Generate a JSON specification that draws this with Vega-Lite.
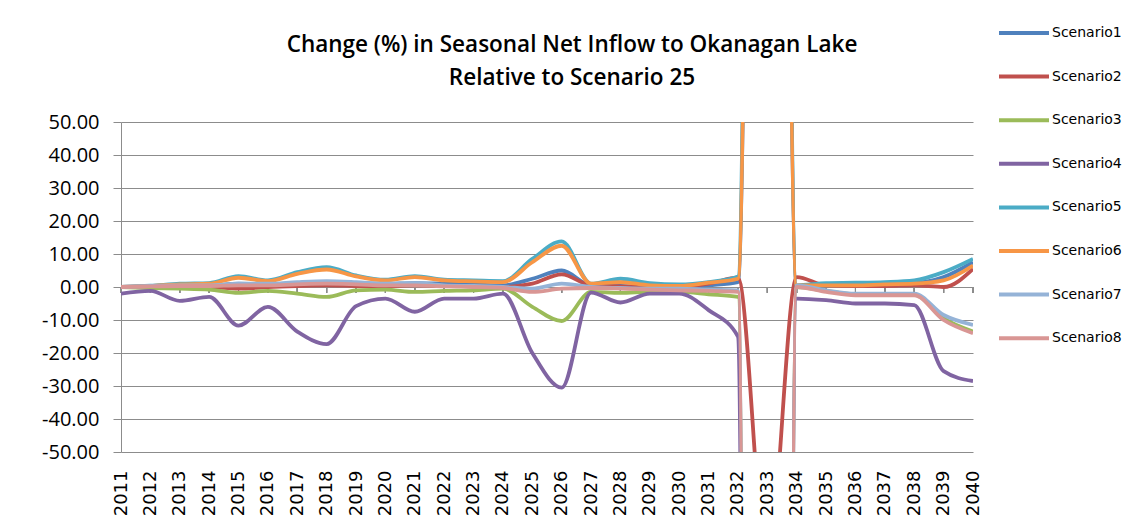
{
  "$schema": "https://vega.github.io/schema/vega-lite/v6.json",
  "autosize": {"type": "none"},
  "width": 852,
  "height": 330,
  "padding": {"left": 121, "top": 122, "right": 162, "bottom": 77},
  "background": "white",
  "config": {"view": {"stroke": null}},
  "title": {
    "text": ["Change (%) in Seasonal Net Inflow to Okanagan Lake", "Relative to Scenario 25"],
    "font": "Open Sans",
    "fontSize": 22.5,
    "fontWeight": 600,
    "color": "#000000",
    "anchor": "middle",
    "dx": 25,
    "offset": -83,
    "lineHeight": 33
  },
  "data": {"values": [
    {"scenario":"Scenario1","year":"2011","value":0},{"scenario":"Scenario1","year":"2012","value":0.2},{"scenario":"Scenario1","year":"2013","value":0.5},{"scenario":"Scenario1","year":"2014","value":0.5},{"scenario":"Scenario1","year":"2015","value":1.0},{"scenario":"Scenario1","year":"2016","value":0.8},{"scenario":"Scenario1","year":"2017","value":1.2},{"scenario":"Scenario1","year":"2018","value":1.5},{"scenario":"Scenario1","year":"2019","value":1.2},{"scenario":"Scenario1","year":"2020","value":1.0},{"scenario":"Scenario1","year":"2021","value":1.2},{"scenario":"Scenario1","year":"2022","value":1.0},{"scenario":"Scenario1","year":"2023","value":0.8},{"scenario":"Scenario1","year":"2024","value":0.5},{"scenario":"Scenario1","year":"2025","value":2.5},{"scenario":"Scenario1","year":"2026","value":5.0},{"scenario":"Scenario1","year":"2027","value":0.5},{"scenario":"Scenario1","year":"2028","value":0.3},{"scenario":"Scenario1","year":"2029","value":0},{"scenario":"Scenario1","year":"2030","value":-0.3},{"scenario":"Scenario1","year":"2031","value":0.5},{"scenario":"Scenario1","year":"2032","value":1.5},{"scenario":"Scenario1","year":"2033","value":700},{"scenario":"Scenario1","year":"2034","value":0.3},{"scenario":"Scenario1","year":"2035","value":0.5},{"scenario":"Scenario1","year":"2036","value":0.8},{"scenario":"Scenario1","year":"2037","value":1.0},{"scenario":"Scenario1","year":"2038","value":1.2},{"scenario":"Scenario1","year":"2039","value":3.0},{"scenario":"Scenario1","year":"2040","value":7.5},
    {"scenario":"Scenario2","year":"2011","value":0},{"scenario":"Scenario2","year":"2012","value":0},{"scenario":"Scenario2","year":"2013","value":0},{"scenario":"Scenario2","year":"2014","value":0},{"scenario":"Scenario2","year":"2015","value":-0.5},{"scenario":"Scenario2","year":"2016","value":0},{"scenario":"Scenario2","year":"2017","value":0.3},{"scenario":"Scenario2","year":"2018","value":0.5},{"scenario":"Scenario2","year":"2019","value":0.3},{"scenario":"Scenario2","year":"2020","value":0.2},{"scenario":"Scenario2","year":"2021","value":0.5},{"scenario":"Scenario2","year":"2022","value":0.3},{"scenario":"Scenario2","year":"2023","value":0.2},{"scenario":"Scenario2","year":"2024","value":0},{"scenario":"Scenario2","year":"2025","value":1.0},{"scenario":"Scenario2","year":"2026","value":3.8},{"scenario":"Scenario2","year":"2027","value":0.5},{"scenario":"Scenario2","year":"2028","value":0.2},{"scenario":"Scenario2","year":"2029","value":0},{"scenario":"Scenario2","year":"2030","value":0},{"scenario":"Scenario2","year":"2031","value":1.0},{"scenario":"Scenario2","year":"2032","value":2.8},{"scenario":"Scenario2","year":"2033","value":-85},{"scenario":"Scenario2","year":"2034","value":3.0},{"scenario":"Scenario2","year":"2035","value":0.5},{"scenario":"Scenario2","year":"2036","value":0.3},{"scenario":"Scenario2","year":"2037","value":0.3},{"scenario":"Scenario2","year":"2038","value":0.5},{"scenario":"Scenario2","year":"2039","value":0},{"scenario":"Scenario2","year":"2040","value":5.5},
    {"scenario":"Scenario3","year":"2011","value":0},{"scenario":"Scenario3","year":"2012","value":-0.3},{"scenario":"Scenario3","year":"2013","value":-0.5},{"scenario":"Scenario3","year":"2014","value":-0.8},{"scenario":"Scenario3","year":"2015","value":-1.8},{"scenario":"Scenario3","year":"2016","value":-1.2},{"scenario":"Scenario3","year":"2017","value":-2.0},{"scenario":"Scenario3","year":"2018","value":-3.0},{"scenario":"Scenario3","year":"2019","value":-1.0},{"scenario":"Scenario3","year":"2020","value":-0.8},{"scenario":"Scenario3","year":"2021","value":-1.5},{"scenario":"Scenario3","year":"2022","value":-1.2},{"scenario":"Scenario3","year":"2023","value":-1.0},{"scenario":"Scenario3","year":"2024","value":-0.5},{"scenario":"Scenario3","year":"2025","value":-6.0},{"scenario":"Scenario3","year":"2026","value":-10.3},{"scenario":"Scenario3","year":"2027","value":-1.5},{"scenario":"Scenario3","year":"2028","value":-1.8},{"scenario":"Scenario3","year":"2029","value":-1.5},{"scenario":"Scenario3","year":"2030","value":-1.5},{"scenario":"Scenario3","year":"2031","value":-2.2},{"scenario":"Scenario3","year":"2032","value":-3.0},{"scenario":"Scenario3","year":"2033","value":-2000},{"scenario":"Scenario3","year":"2034","value":0},{"scenario":"Scenario3","year":"2035","value":-1.2},{"scenario":"Scenario3","year":"2036","value":-2.2},{"scenario":"Scenario3","year":"2037","value":-2.3},{"scenario":"Scenario3","year":"2038","value":-2.3},{"scenario":"Scenario3","year":"2039","value":-9.5},{"scenario":"Scenario3","year":"2040","value":-13.5},
    {"scenario":"Scenario4","year":"2011","value":-2.0},{"scenario":"Scenario4","year":"2012","value":-1.2},{"scenario":"Scenario4","year":"2013","value":-4.2},{"scenario":"Scenario4","year":"2014","value":-3.0},{"scenario":"Scenario4","year":"2015","value":-11.7},{"scenario":"Scenario4","year":"2016","value":-6.0},{"scenario":"Scenario4","year":"2017","value":-13.5},{"scenario":"Scenario4","year":"2018","value":-17.3},{"scenario":"Scenario4","year":"2019","value":-5.8},{"scenario":"Scenario4","year":"2020","value":-3.5},{"scenario":"Scenario4","year":"2021","value":-7.5},{"scenario":"Scenario4","year":"2022","value":-3.5},{"scenario":"Scenario4","year":"2023","value":-3.5},{"scenario":"Scenario4","year":"2024","value":-2.0},{"scenario":"Scenario4","year":"2025","value":-20.0},{"scenario":"Scenario4","year":"2026","value":-30.5},{"scenario":"Scenario4","year":"2027","value":-1.7},{"scenario":"Scenario4","year":"2028","value":-4.7},{"scenario":"Scenario4","year":"2029","value":-2.0},{"scenario":"Scenario4","year":"2030","value":-2.0},{"scenario":"Scenario4","year":"2031","value":-7.0},{"scenario":"Scenario4","year":"2032","value":-15.0},{"scenario":"Scenario4","year":"2033","value":-2000},{"scenario":"Scenario4","year":"2034","value":-3.5},{"scenario":"Scenario4","year":"2035","value":-4.0},{"scenario":"Scenario4","year":"2036","value":-5.0},{"scenario":"Scenario4","year":"2037","value":-5.0},{"scenario":"Scenario4","year":"2038","value":-5.5},{"scenario":"Scenario4","year":"2039","value":-25.5},{"scenario":"Scenario4","year":"2040","value":-28.5},
    {"scenario":"Scenario5","year":"2011","value":0},{"scenario":"Scenario5","year":"2012","value":0.4},{"scenario":"Scenario5","year":"2013","value":1.0},{"scenario":"Scenario5","year":"2014","value":1.2},{"scenario":"Scenario5","year":"2015","value":3.3},{"scenario":"Scenario5","year":"2016","value":2.0},{"scenario":"Scenario5","year":"2017","value":4.5},{"scenario":"Scenario5","year":"2018","value":6.0},{"scenario":"Scenario5","year":"2019","value":3.5},{"scenario":"Scenario5","year":"2020","value":2.2},{"scenario":"Scenario5","year":"2021","value":3.3},{"scenario":"Scenario5","year":"2022","value":2.2},{"scenario":"Scenario5","year":"2023","value":2.0},{"scenario":"Scenario5","year":"2024","value":1.8},{"scenario":"Scenario5","year":"2025","value":8.5},{"scenario":"Scenario5","year":"2026","value":13.8},{"scenario":"Scenario5","year":"2027","value":1.0},{"scenario":"Scenario5","year":"2028","value":2.5},{"scenario":"Scenario5","year":"2029","value":1.2},{"scenario":"Scenario5","year":"2030","value":0.8},{"scenario":"Scenario5","year":"2031","value":1.5},{"scenario":"Scenario5","year":"2032","value":3.2},{"scenario":"Scenario5","year":"2033","value":800},{"scenario":"Scenario5","year":"2034","value":0.5},{"scenario":"Scenario5","year":"2035","value":1.2},{"scenario":"Scenario5","year":"2036","value":1.3},{"scenario":"Scenario5","year":"2037","value":1.5},{"scenario":"Scenario5","year":"2038","value":2.0},{"scenario":"Scenario5","year":"2039","value":4.5},{"scenario":"Scenario5","year":"2040","value":8.5},
    {"scenario":"Scenario6","year":"2011","value":0},{"scenario":"Scenario6","year":"2012","value":0.3},{"scenario":"Scenario6","year":"2013","value":0.8},{"scenario":"Scenario6","year":"2014","value":1.0},{"scenario":"Scenario6","year":"2015","value":2.8},{"scenario":"Scenario6","year":"2016","value":1.8},{"scenario":"Scenario6","year":"2017","value":4.0},{"scenario":"Scenario6","year":"2018","value":5.3},{"scenario":"Scenario6","year":"2019","value":3.2},{"scenario":"Scenario6","year":"2020","value":2.0},{"scenario":"Scenario6","year":"2021","value":3.0},{"scenario":"Scenario6","year":"2022","value":2.0},{"scenario":"Scenario6","year":"2023","value":1.7},{"scenario":"Scenario6","year":"2024","value":1.5},{"scenario":"Scenario6","year":"2025","value":7.5},{"scenario":"Scenario6","year":"2026","value":12.5},{"scenario":"Scenario6","year":"2027","value":1.0},{"scenario":"Scenario6","year":"2028","value":1.5},{"scenario":"Scenario6","year":"2029","value":0.5},{"scenario":"Scenario6","year":"2030","value":0.3},{"scenario":"Scenario6","year":"2031","value":1.3},{"scenario":"Scenario6","year":"2032","value":2.5},{"scenario":"Scenario6","year":"2033","value":700},{"scenario":"Scenario6","year":"2034","value":0.5},{"scenario":"Scenario6","year":"2035","value":0.5},{"scenario":"Scenario6","year":"2036","value":0.5},{"scenario":"Scenario6","year":"2037","value":0.8},{"scenario":"Scenario6","year":"2038","value":1.0},{"scenario":"Scenario6","year":"2039","value":2.0},{"scenario":"Scenario6","year":"2040","value":6.5},
    {"scenario":"Scenario7","year":"2011","value":0},{"scenario":"Scenario7","year":"2012","value":0.3},{"scenario":"Scenario7","year":"2013","value":0.5},{"scenario":"Scenario7","year":"2014","value":0.5},{"scenario":"Scenario7","year":"2015","value":1.0},{"scenario":"Scenario7","year":"2016","value":1.0},{"scenario":"Scenario7","year":"2017","value":1.5},{"scenario":"Scenario7","year":"2018","value":1.8},{"scenario":"Scenario7","year":"2019","value":1.5},{"scenario":"Scenario7","year":"2020","value":1.0},{"scenario":"Scenario7","year":"2021","value":1.2},{"scenario":"Scenario7","year":"2022","value":0.5},{"scenario":"Scenario7","year":"2023","value":0.3},{"scenario":"Scenario7","year":"2024","value":0},{"scenario":"Scenario7","year":"2025","value":-0.5},{"scenario":"Scenario7","year":"2026","value":1.0},{"scenario":"Scenario7","year":"2027","value":0},{"scenario":"Scenario7","year":"2028","value":-0.3},{"scenario":"Scenario7","year":"2029","value":-0.5},{"scenario":"Scenario7","year":"2030","value":-0.5},{"scenario":"Scenario7","year":"2031","value":-0.8},{"scenario":"Scenario7","year":"2032","value":-1.0},{"scenario":"Scenario7","year":"2033","value":-2000},{"scenario":"Scenario7","year":"2034","value":0.5},{"scenario":"Scenario7","year":"2035","value":-1.0},{"scenario":"Scenario7","year":"2036","value":-2.0},{"scenario":"Scenario7","year":"2037","value":-2.0},{"scenario":"Scenario7","year":"2038","value":-2.0},{"scenario":"Scenario7","year":"2039","value":-8.5},{"scenario":"Scenario7","year":"2040","value":-11.5},
    {"scenario":"Scenario8","year":"2011","value":0},{"scenario":"Scenario8","year":"2012","value":0.2},{"scenario":"Scenario8","year":"2013","value":0.3},{"scenario":"Scenario8","year":"2014","value":0.3},{"scenario":"Scenario8","year":"2015","value":0.5},{"scenario":"Scenario8","year":"2016","value":0.5},{"scenario":"Scenario8","year":"2017","value":0.8},{"scenario":"Scenario8","year":"2018","value":1.0},{"scenario":"Scenario8","year":"2019","value":0.8},{"scenario":"Scenario8","year":"2020","value":0.5},{"scenario":"Scenario8","year":"2021","value":0.5},{"scenario":"Scenario8","year":"2022","value":0.2},{"scenario":"Scenario8","year":"2023","value":0},{"scenario":"Scenario8","year":"2024","value":-0.3},{"scenario":"Scenario8","year":"2025","value":-1.5},{"scenario":"Scenario8","year":"2026","value":-0.5},{"scenario":"Scenario8","year":"2027","value":-0.3},{"scenario":"Scenario8","year":"2028","value":-0.5},{"scenario":"Scenario8","year":"2029","value":-0.8},{"scenario":"Scenario8","year":"2030","value":-1.0},{"scenario":"Scenario8","year":"2031","value":-1.2},{"scenario":"Scenario8","year":"2032","value":-1.5},{"scenario":"Scenario8","year":"2033","value":-2000},{"scenario":"Scenario8","year":"2034","value":0},{"scenario":"Scenario8","year":"2035","value":-1.5},{"scenario":"Scenario8","year":"2036","value":-2.5},{"scenario":"Scenario8","year":"2037","value":-2.5},{"scenario":"Scenario8","year":"2038","value":-2.5},{"scenario":"Scenario8","year":"2039","value":-10.0},{"scenario":"Scenario8","year":"2040","value":-14.0}
  ]},
  "encoding": {
    "x": {
      "field": "year", "type": "ordinal",
      "scale": {"type": "point", "padding": 0},
      "axis": {
        "title": null, "labelAngle": 270, "labelFont": "DejaVu Sans", "labelFontSize": 18,
        "labelColor": "#000000", "ticks": false, "domain": false, "grid": false,
        "labelPadding": 18, "labelOverlap": false
      }
    }
  },
  "layer": [
    {
      "mark": {"type": "rule", "color": "#8c8c8c", "strokeWidth": 1},
      "encoding": {"y": {"datum": 0}, "y2": {"datum": -1.8}}
    },
    {
      "mark": {"type": "line", "interpolate": "monotone", "clip": true, "strokeWidth": 3.8},
      "encoding": {
        "y": {
          "field": "value", "type": "quantitative",
          "scale": {"domain": [-50, 50], "nice": false, "zero": false},
          "axis": {
            "title": null, "values": [-50,-40,-30,-20,-10,0,10,20,30,40,50], "tickCount": 11,
            "labelExpr": "replace(format(datum.value, '.2f'), '\u2212', '-')",
            "labelOverlap": false,
            "labelFont": "Open Sans", "labelFontSize": 20, "labelColor": "#000000",
            "labelPadding": 14, "tickSize": 8, "tickColor": "#8c8c8c", "domainColor": "#8c8c8c",
            "gridColor": "#8c8c8c", "gridWidth": 1, "grid": true
          }
        },
        "color": {
          "field": "scenario", "type": "nominal",
          "scale": {
            "domain": ["Scenario1","Scenario2","Scenario3","Scenario4","Scenario5","Scenario6","Scenario7","Scenario8"],
            "range": ["#4F81BD","#C0504D","#9BBB59","#8064A2","#4BACC6","#F79646","#95B3D7","#D99694"]
          },
          "legend": {
            "title": null, "orient": "none", "legendX": 876, "legendY": -116,
            "symbolType": "stroke", "symbolSize": 2500, "symbolStrokeWidth": 4,
            "labelFont": "DejaVu Sans", "labelFontSize": 14, "labelColor": "#000000",
            "labelOffset": 1, "rowPadding": 8.6, "padding": 0
          }
        }
      }
    }
  ]
}
